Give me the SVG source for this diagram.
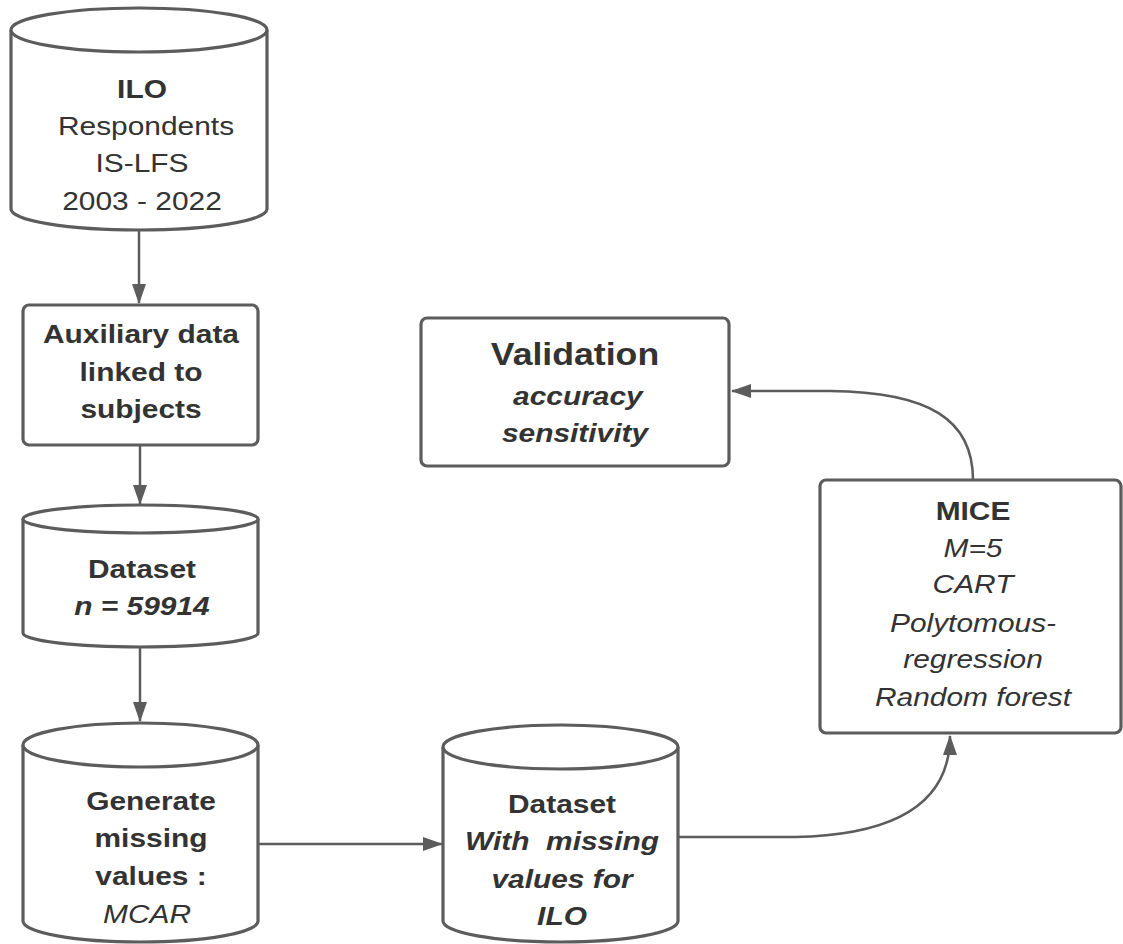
<svg xmlns="http://www.w3.org/2000/svg" width="1123" height="944" viewBox="0 0 1123 944">
<defs>
<style>
.shape{fill:#fff;stroke:#5c5c5c;stroke-width:3.2}
.conn{fill:none;stroke:#5c5c5c;stroke-width:2.5}
text{font-family:"Liberation Sans",Arial,sans-serif;font-size:26px;fill:#333;text-anchor:middle}
.b{font-weight:bold}
.i{font-style:italic}
.bi{font-weight:bold;font-style:italic}
</style>
<marker id="arr" viewBox="0 0 20 14" refX="19" refY="7" markerWidth="20" markerHeight="14" markerUnits="userSpaceOnUse" orient="auto">
<path d="M0,0 L20,7 L0,14 z" fill="#5c5c5c"/>
</marker>
</defs>
<rect width="1123" height="944" fill="#fff"/>
<g id="connectors">
<path class="conn" d="M139,231 V303" marker-end="url(#arr)"/>
<path class="conn" d="M140,446 V504" marker-end="url(#arr)"/>
<path class="conn" d="M140,648 V721" marker-end="url(#arr)"/>
<path class="conn" d="M259,844 H442" marker-end="url(#arr)"/>
<path class="conn" d="M679,837 H795 C900,835 950,800 950,736" marker-end="url(#arr)"/>
<path class="conn" d="M973,480 C973,420 930,392 830,391 H732" marker-end="url(#arr)"/>
</g>
<g id="node-ilo">
<path class="shape" d="M11,30 V209 A128,21 0 0 0 267,209 V30"/>
<ellipse class="shape" cx="139" cy="30" rx="128" ry="22"/>
<g transform="translate(142 0) scale(1.15 1)">
<text x="0" y="98" class="b">ILO</text>
<text x="3.5" y="135">Respondents</text>
<text x="0" y="172">IS-LFS</text>
<text x="0" y="210">2003 - 2022</text>
</g>
</g>
<g id="node-aux">
<rect class="shape" x="23" y="305" width="235" height="140" rx="6"/>
<g transform="translate(141 0) scale(1.15 1)">
<text x="0" y="343" class="b">Auxiliary data</text>
<text x="0" y="381" class="b">linked to</text>
<text x="0" y="418" class="b">subjects</text>
</g>
</g>
<g id="node-dataset">
<path class="shape" d="M23,519 V633 A117.5,14 0 0 0 258,633 V519"/>
<ellipse class="shape" cx="140.5" cy="519" rx="117.5" ry="14"/>
<g transform="translate(142 0) scale(1.15 1)">
<text x="0" y="578" class="b">Dataset</text>
<text x="0" y="615" class="bi">n = 59914</text>
</g>
</g>
<g id="node-generate">
<path class="shape" d="M23,745 V921 A117.5,21 0 0 0 258,921 V745"/>
<ellipse class="shape" cx="140.5" cy="745" rx="117.5" ry="22"/>
<g transform="translate(151 0) scale(1.15 1)">
<text x="0" y="810" class="b">Generate</text>
<text x="0" y="847" class="b">missing</text>
<text x="0" y="885" class="b">values :</text>
<text x="-3.5" y="923" class="i">MCAR</text>
</g>
</g>
<g id="node-missing">
<path class="shape" d="M443,747 V921 A117.5,21 0 0 0 678,921 V747"/>
<ellipse class="shape" cx="560.5" cy="747" rx="117.5" ry="22"/>
<g transform="translate(562 0) scale(1.15 1)">
<text x="0" y="813" class="b">Dataset</text>
<text x="0" y="850" class="bi">With&#160; missing</text>
<text x="0" y="888" class="bi">values for</text>
<text x="0" y="925" class="bi">ILO</text>
</g>
</g>
<g id="node-validation">
<rect class="shape" x="421" y="318" width="308" height="148" rx="6"/>
<g transform="translate(575 0) scale(1.15 1)">
<text x="0" y="365" class="b" style="font-size:31px">Validation</text>
<text x="2.5" y="405" class="bi">accuracy</text>
<text x="0" y="442" class="bi">sensitivity</text>
</g>
</g>
<g id="node-mice">
<rect class="shape" x="820" y="480" width="301" height="253" rx="6"/>
<g transform="translate(973 0) scale(1.15 1)">
<text x="0" y="520" class="b">MICE</text>
<text x="0" y="557" class="i">M=5</text>
<text x="0" y="593" class="i">CART</text>
<text x="0" y="632" class="i">Polytomous-</text>
<text x="0" y="668" class="i">regression</text>
<text x="0" y="706" class="i">Random forest</text>
</g>
</g>
</svg>
